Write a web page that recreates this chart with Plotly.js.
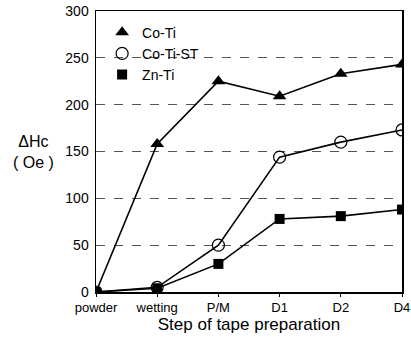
<!DOCTYPE html>
<html><head><meta charset="utf-8">
<script src="https://cdn.plot.ly/plotly-3.0.1.min.js"></script>
<style>body{margin:0;padding:0;background:#fff}#chart{width:411px;height:342px}</style>
</head><body><div id="chart"></div>
<script>
const steps = ['powder','wetting','P/M','D1','D2','D4'];
const coTi = [0, 158, 225, 209, 233, 243];
const coTiST = [0, 5, 50, 144, 160, 173];
const znTi = [0, 4, 30, 78, 81, 88];
const yTicks = [0, 50, 100, 150, 200, 250, 300];

const line = {color:'#000', width:1.6};
const series = [
  {name:'Co-Ti', y: coTi, marker:{symbol:'triangle-up', size:12, color:'#000'}},
  {name:'Co-Ti-ST', y: coTiST, marker:{symbol:'circle-open', size:12, color:'#000', line:{width:1.2, color:'#000'}}},
  {name:'Zn-Ti', y: znTi, marker:{symbol:'square', size:10, color:'#000'}}
];
const traces = [];
series.forEach(s => {
  traces.push({x: steps, y: s.y, mode:'lines', line: line, showlegend:false, hoverinfo:'skip'});
});
series.forEach(s => {
  traces.push({x: steps, y: s.y, name: s.name, mode:'markers', marker: s.marker});
});
const fam = 'Liberation Sans, Arial, sans-serif';
const layout = {
  width:411, height:342,
  margin:{l:96, r:9, t:11, b:50},
  paper_bgcolor:'#fff', plot_bgcolor:'#fff',
  font: {family:fam, color:'#000'},
  showlegend:true,
  legend:{x:0.02, y:0.98, xanchor:'left', yanchor:'top', bgcolor:'rgba(0,0,0,0)',
    font:{family:fam, size:14, color:'#000'}, itemwidth:30, tracegroupgap:2},
  xaxis:{type:'category', range:[0,5], showline:true, linecolor:'#000', linewidth:1.5,
    mirror:true, ticks:'outside', ticklen:3, tickcolor:'#000', showgrid:false, zeroline:false,
    tickfont:{family:fam, size:13, color:'#000'},
    title:{text:'Step of tape preparation', font:{family:fam, size:17, color:'#000'}, standoff:4}},
  yaxis:{range:[0,300], tickvals:yTicks, showline:true, linecolor:'#000', linewidth:1.5,
    mirror:true, ticks:'', showgrid:true, gridcolor:'#555', griddash:'dash', gridwidth:1,
    zeroline:false, tickfont:{family:fam, size:14, color:'#000'}, ticklabelstandoff:3},
  annotations:[
    {text:'ΔHc<br>( Oe )', xref:'paper', yref:'paper', x:-0.205, y:0.5, xanchor:'center', yanchor:'middle',
     showarrow:false, font:{family:fam, size:16, color:'#000'}}
  ]
};
Plotly.newPlot('chart', traces, layout, {displayModeBar:false, staticPlot:true});
</script></body></html>
